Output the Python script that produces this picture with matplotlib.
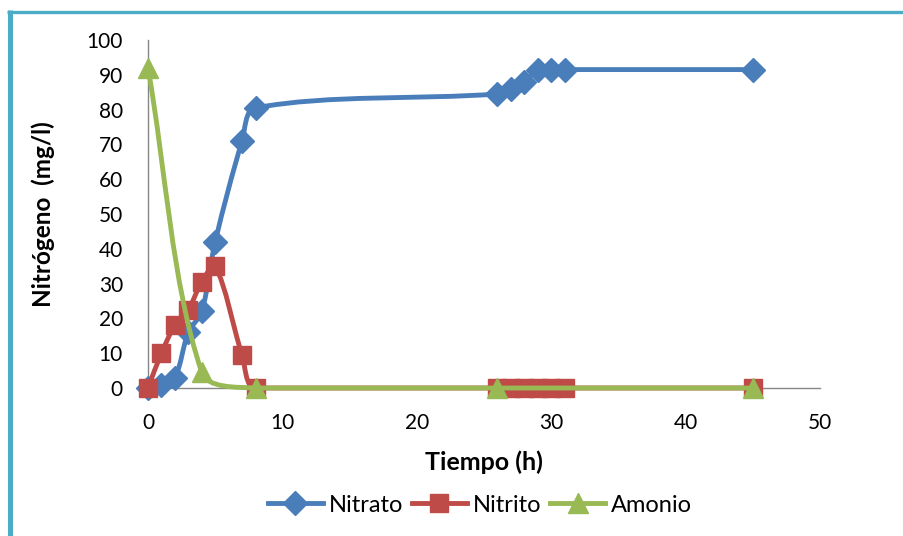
import matplotlib
matplotlib.use("Agg")
import matplotlib.pyplot as plt
import numpy as np
from matplotlib.path import Path
from matplotlib.patches import PathPatch
from matplotlib.lines import Line2D

plt.rcParams['font.family'] = ['Lato', 'DejaVu Sans']

# datos
tiempo_nitrato = [0, 1, 2, 3, 4, 5, 7, 8, 26, 27, 28, 29, 30, 31, 45]
nitrato = [0, 1, 3, 16, 22, 42, 71, 80.5, 84.5, 86, 88, 91.5, 91.5, 91.5, 91.5]
tiempo_nitrito = [0, 1, 2, 3, 4, 5, 7, 8, 26, 27, 28, 29, 30, 31, 45]
nitrito = [0, 10, 18, 22.5, 30.5, 35, 9.5, 0, 0, 0, 0, 0, 0, 0, 0]
tiempo_amonio = [0, 4, 8, 26, 45]
amonio = [92, 4.5, 0, 0, 0]

x_ticks = [0, 10, 20, 30, 40, 50]
y_ticks = [0, 10, 20, 30, 40, 50, 60, 70, 80, 90, 100]


# curva suavizada (tipo Excel) con beziers cubicos en pixeles
def smooth_path(ax, xs, ys):
    pts = ax.transData.transform(np.column_stack([xs, ys]))
    n = len(pts)
    verts = [pts[0]]
    codes = [Path.MOVETO]
    for i in range(n - 1):
        p0 = pts[i - 1] if i > 0 else pts[i]
        p1 = pts[i]
        p2 = pts[i + 1]
        p3 = pts[i + 2] if i + 2 < n else pts[i + 1]
        l01 = np.hypot(*(p1 - p0))
        l12 = np.hypot(*(p2 - p1))
        l23 = np.hypot(*(p3 - p2))
        f1 = l12 / (l01 + l12) / 3 if l01 + l12 > 0 else 0
        f2 = l12 / (l12 + l23) / 3 if l12 + l23 > 0 else 0
        c1 = p1 + (p2 - p0) * f1
        c2 = p2 - (p3 - p1) * f2
        if abs(p1[1] - p2[1]) < 1e-6:
            # tramo plano: se queda plano
            c1[1] = p1[1]
            c2[1] = p2[1]
        verts += [c1, c2, p2]
        codes += [Path.CURVE4] * 3
    verts = ax.transData.inverted().transform(np.array(verts))
    return Path(verts, codes)


fig = plt.figure(figsize=(9.04, 5.36), dpi=100)
ax = fig.add_axes([148 / 904, 1 - 388 / 536, 672 / 904, 348 / 536])
ax.set_xlim(0, 50)
ax.set_ylim(0, 100)

series = [
    (tiempo_nitrato, nitrato, '#4A7EBB', 'D', 12.5, 'Nitrato'),
    (tiempo_nitrito, nitrito, '#BE4B48', 's', 13.5, 'Nitrito'),
    (tiempo_amonio, amonio, '#98B954', '^', 15, 'Amonio'),
]

handles = []
z = 3
for xs, ys, col, mk, ms, name in series:
    ax.add_patch(PathPatch(smooth_path(ax, xs, ys), facecolor='none', edgecolor=col,
                           lw=3.5, capstyle='round', joinstyle='round', zorder=z, clip_on=False))
    ax.plot(xs, ys, linestyle='none', marker=mk, markersize=ms, color=col,
            markeredgecolor=col, zorder=z + 0.5, clip_on=False)
    handles.append(Line2D([], [], color=col, lw=3.5, marker=mk, markersize=ms,
                          markeredgecolor=col, label=name))
    z += 1

ax.set_xticks(x_ticks)
ax.set_yticks(y_ticks)
ax.tick_params(axis='both', length=0, labelsize=15)
ax.tick_params(axis='x', pad=18)
ax.tick_params(axis='y', pad=18)

for s in ['top', 'right']:
    ax.spines[s].set_visible(False)
for s in ['left', 'bottom']:
    ax.spines[s].set_color('#868686')
    ax.spines[s].set_linewidth(1.0)

ax.set_xlabel('Tiempo (h)', fontsize=18, fontweight='bold')
ax.xaxis.set_label_coords(0.5, -0.18)
ax.set_ylabel('Nitrógeno  (mg/l)', fontsize=17.5, fontweight='bold')
ax.yaxis.set_label_coords(-0.138, 0.5)

fig.legend(handles=handles, loc='center', bbox_to_anchor=(480 / 904, 31 / 536), ncol=3,
           frameon=False, fontsize=17, handlelength=2.3, handletextpad=0.25,
           columnspacing=0.4, numpoints=1)

# marco exterior
fig.add_artist(Line2D([7 / 904, 1], [1 - 11.5 / 536, 1 - 11.5 / 536], transform=fig.transFigure,
                      color='#4BACC6', lw=2.4, solid_capstyle='butt'))
fig.add_artist(Line2D([9.5 / 904, 9.5 / 904], [0, 1 - 10 / 536], transform=fig.transFigure,
                      color='#4BACC6', lw=3.6, solid_capstyle='butt'))

fig.savefig('out.png', dpi=100)
